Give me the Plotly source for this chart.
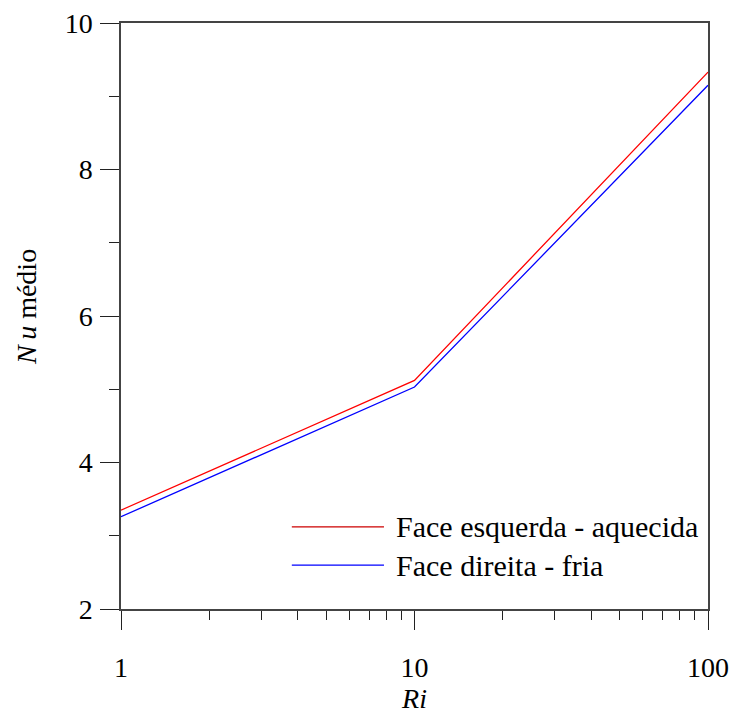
import plotly.graph_objects as go

# Mean Nusselt number versus Richardson number for both cavity faces
ri = [1, 10, 100]
nu_esquerda = [3.35, 5.12, 9.33]   # heated left face
nu_direita = [3.26, 5.03, 9.15]    # cold right face

series_names = ["Face esquerda - aquecida", "Face direita - fria"]
series_colors = ["#ff0000", "#0000ff"]
legend_colors = ["#cc0000", "#0000ff"]

x_major = [1, 10, 100]
x_minor = [2, 3, 4, 5, 6, 7, 8, 9, 20, 30, 40, 50, 60, 70, 80, 90]
y_major = [2, 4, 6, 8, 10]
y_minor = [3, 5, 7, 9]

FONT = "Liberation Serif"
TICK_SIZE = 28
TEXT_SIZE = 29

fig = go.Figure()
for name, vals, col in zip(series_names, [nu_esquerda, nu_direita], series_colors):
    fig.add_trace(go.Scatter(x=ri, y=vals, mode="lines", name=name,
                             line=dict(color=col, width=1.3), showlegend=False))

# hand-drawn legend with long line samples
legend_y = [0.140, 0.075]
for name, col, yy in zip(series_names, legend_colors, legend_y):
    fig.add_shape(type="line", xref="paper", yref="paper",
                  x0=0.291, x1=0.448, y0=yy, y1=yy,
                  line=dict(color=col, width=1.2))
    fig.add_annotation(xref="paper", yref="paper", x=0.465, y=yy,
                       text=name, showarrow=False, xanchor="left", yanchor="middle",
                       font=dict(family=FONT, size=TEXT_SIZE + 1, color="black"))

# vertical axis title
fig.add_annotation(xref="paper", yref="paper", x=-0.162, y=0.515,
                   text="<i>N\u2009u</i> médio", textangle=-90, showarrow=False,
                   xanchor="center", yanchor="middle",
                   font=dict(family=FONT, size=TEXT_SIZE - 1, color="black"))

axis_common = dict(
    showline=True, linecolor="#444444", linewidth=1.5, mirror=True,
    showgrid=False, zeroline=False, ticks="outside", ticklen=19,
    tickwidth=1.2, tickcolor="#222222", automargin=False,
    tickfont=dict(family=FONT, size=TICK_SIZE, color="black"),
)

fig.update_xaxes(
    type="log", range=[0, 2], tickvals=x_major, ticktext=["1", "10", "100"],
    minor=dict(tickvals=x_minor, ticks="outside", ticklen=9, tickwidth=1.2,
               tickcolor="#222222", showgrid=False),
    ticklabelstandoff=14,
    title=dict(text="<i>Ri</i>", font=dict(family=FONT, size=TEXT_SIZE - 1, color="black"),
               standoff=4),
    **axis_common,
)
fig.update_yaxes(
    range=[2, 10], tickvals=y_major,
    minor=dict(tickvals=y_minor, ticks="outside", ticklen=10, tickwidth=1.2,
               tickcolor="#222222", showgrid=False),
    ticklabelstandoff=2,
    **axis_common,
)

fig.update_layout(
    width=731, height=717,
    margin=dict(l=121, r=23, t=23, b=108),
    paper_bgcolor="white", plot_bgcolor="white",
    font=dict(family=FONT),
    showlegend=False,
)

fig.write_html("out.html")
